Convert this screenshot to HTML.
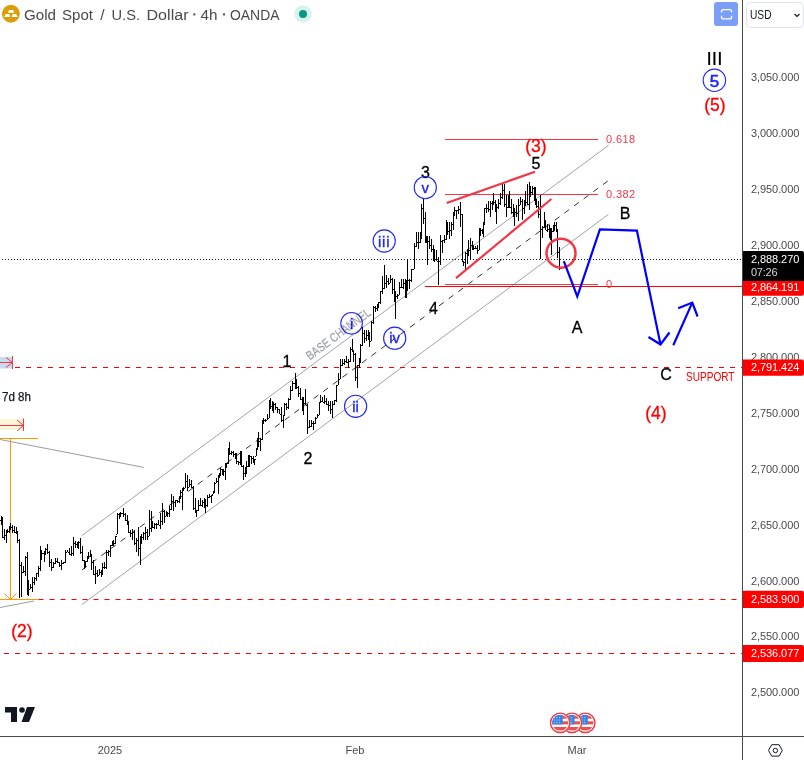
<!DOCTYPE html>
<html><head><meta charset="utf-8">
<style>
html,body{margin:0;padding:0;background:#fff;width:804px;height:760px;overflow:hidden}
svg{display:block;will-change:transform}
text{font-family:"Liberation Sans",sans-serif}
</style></head>
<body>
<svg width="804" height="760" viewBox="0 0 804 760">
<rect width="804" height="760" fill="#fff"/>

<!-- measure overlays left -->
<rect x="0" y="357" width="12" height="11.5" fill="#c6dbf0"/>
<path d="M0 362.5H12.5M12.5 356V369M6 357.5L12.5 362.5L6 367.5" stroke="#f23645" stroke-width="1" fill="none"/>
<rect x="0" y="419" width="23.5" height="11" fill="#fdf5d8"/>
<path d="M0 425.5H23.5M23.5 418.5V431M17 420L23.5 425.5L17 431" stroke="#f23645" stroke-width="1" fill="none"/>
<text x="2" y="400.5" font-size="12.5" fill="#131722" stroke="#131722" stroke-width="0.25" textLength="29" lengthAdjust="spacingAndGlyphs">7d 8h</text>
<path d="M0 438.5H38M10.5 438.5V599.5M0 599.5H38M4.5 593.5L10.5 599.5L16.5 593.5" stroke="#ff9800" stroke-width="1" fill="none"/>
<path d="M0 439.5L143.7 467.4M0 607.5L34 601" stroke="#9a9ca3" stroke-width="1" fill="none"/>

<!-- channel -->
<path d="M82 535.5L608.7 145.2M82 604.5L608.5 214.3" stroke="#a0a3aa" stroke-width="1" fill="none"/>
<path d="M82 570L607.8 181" stroke="#333" stroke-width="1" stroke-dasharray="6,6" fill="none"/>
<text transform="translate(310,360.5) rotate(-36.8)" font-size="12.5" fill="#9b9ea6" stroke="#9b9ea6" stroke-width="0.2" textLength="77" lengthAdjust="spacingAndGlyphs">BASE CHANNEL</text>

<!-- horizontal levels -->
<path d="M15 367.5H742M38.5 599.5H742M4 653.5H742" stroke="#ff0000" stroke-width="1.1" stroke-dasharray="5,6" fill="none"/>
<path d="M425 286.5H742" stroke="#ff0000" stroke-width="1" fill="none"/>
<path d="M-1 259.5H742" stroke="#131722" stroke-width="1" stroke-dasharray="1,2" fill="none"/>

<!-- fib -->
<path d="M445 139.5H598M445 194.5H598M445 284.5H598" stroke="#f23645" stroke-width="1" fill="none"/>
<text x="606" y="143" font-size="11" fill="#f23645" textLength="29" lengthAdjust="spacing">0.618</text>
<text x="606" y="198" font-size="11" fill="#f23645" textLength="29" lengthAdjust="spacing">0.382</text>
<text x="606" y="288" font-size="11" fill="#f23645">0</text>

<!-- bars -->
<g fill="#000">
<rect x="1" y="516" width="1" height="9"/>
<rect x="0" y="520" width="1" height="1"/>
<rect x="2" y="522" width="1" height="1"/>
<rect x="2" y="517" width="1" height="21"/>
<rect x="1" y="522" width="1" height="1"/>
<rect x="3" y="537" width="1" height="1"/>
<rect x="4" y="529" width="1" height="11"/>
<rect x="3" y="537" width="1" height="1"/>
<rect x="5" y="535" width="1" height="1"/>
<rect x="6" y="530" width="1" height="13"/>
<rect x="5" y="535" width="1" height="1"/>
<rect x="7" y="531" width="1" height="1"/>
<rect x="7" y="529" width="1" height="4"/>
<rect x="6" y="531" width="1" height="1"/>
<rect x="8" y="531" width="1" height="1"/>
<rect x="9" y="526" width="1" height="7"/>
<rect x="8" y="531" width="1" height="1"/>
<rect x="10" y="527" width="1" height="1"/>
<rect x="10" y="523" width="1" height="7"/>
<rect x="9" y="527" width="1" height="1"/>
<rect x="11" y="527" width="1" height="1"/>
<rect x="12" y="525" width="1" height="8"/>
<rect x="11" y="527" width="1" height="1"/>
<rect x="13" y="530" width="1" height="1"/>
<rect x="14" y="526" width="1" height="7"/>
<rect x="13" y="530" width="1" height="1"/>
<rect x="15" y="532" width="1" height="1"/>
<rect x="16" y="527" width="1" height="7"/>
<rect x="15" y="532" width="1" height="1"/>
<rect x="17" y="532" width="1" height="1"/>
<rect x="17" y="531" width="1" height="12"/>
<rect x="16" y="532" width="1" height="1"/>
<rect x="18" y="540" width="1" height="1"/>
<rect x="19" y="539" width="1" height="59"/>
<rect x="18" y="540" width="1" height="1"/>
<rect x="20" y="565" width="1" height="1"/>
<rect x="21" y="562" width="1" height="35"/>
<rect x="20" y="565" width="1" height="1"/>
<rect x="22" y="572" width="1" height="1"/>
<rect x="23" y="566" width="1" height="7"/>
<rect x="22" y="572" width="1" height="1"/>
<rect x="24" y="571" width="1" height="1"/>
<rect x="25" y="556" width="1" height="20"/>
<rect x="24" y="571" width="1" height="1"/>
<rect x="26" y="557" width="1" height="1"/>
<rect x="27" y="552" width="1" height="42"/>
<rect x="26" y="557" width="1" height="1"/>
<rect x="28" y="594" width="1" height="1"/>
<rect x="28" y="580" width="1" height="16"/>
<rect x="27" y="594" width="1" height="1"/>
<rect x="29" y="589" width="1" height="1"/>
<rect x="30" y="584" width="1" height="5"/>
<rect x="29" y="589" width="1" height="1"/>
<rect x="31" y="587" width="1" height="1"/>
<rect x="32" y="577" width="1" height="15"/>
<rect x="31" y="587" width="1" height="1"/>
<rect x="33" y="582" width="1" height="1"/>
<rect x="34" y="577" width="1" height="8"/>
<rect x="33" y="582" width="1" height="1"/>
<rect x="35" y="578" width="1" height="1"/>
<rect x="36" y="573" width="1" height="8"/>
<rect x="35" y="578" width="1" height="1"/>
<rect x="37" y="573" width="1" height="1"/>
<rect x="38" y="566" width="1" height="11"/>
<rect x="37" y="573" width="1" height="1"/>
<rect x="39" y="568" width="1" height="1"/>
<rect x="40" y="546" width="1" height="25"/>
<rect x="39" y="568" width="1" height="1"/>
<rect x="41" y="550" width="1" height="1"/>
<rect x="41" y="550" width="1" height="10"/>
<rect x="40" y="550" width="1" height="1"/>
<rect x="42" y="553" width="1" height="1"/>
<rect x="44" y="551" width="1" height="11"/>
<rect x="43" y="553" width="1" height="1"/>
<rect x="45" y="552" width="1" height="1"/>
<rect x="45" y="548" width="1" height="7"/>
<rect x="44" y="552" width="1" height="1"/>
<rect x="46" y="549" width="1" height="1"/>
<rect x="47" y="544" width="1" height="10"/>
<rect x="46" y="549" width="1" height="1"/>
<rect x="48" y="552" width="1" height="1"/>
<rect x="49" y="551" width="1" height="16"/>
<rect x="48" y="552" width="1" height="1"/>
<rect x="50" y="562" width="1" height="1"/>
<rect x="51" y="559" width="1" height="12"/>
<rect x="50" y="562" width="1" height="1"/>
<rect x="52" y="567" width="1" height="1"/>
<rect x="53" y="562" width="1" height="6"/>
<rect x="52" y="567" width="1" height="1"/>
<rect x="54" y="563" width="1" height="1"/>
<rect x="55" y="558" width="1" height="6"/>
<rect x="54" y="563" width="1" height="1"/>
<rect x="56" y="561" width="1" height="1"/>
<rect x="57" y="558" width="1" height="5"/>
<rect x="56" y="561" width="1" height="1"/>
<rect x="58" y="562" width="1" height="1"/>
<rect x="59" y="562" width="1" height="5"/>
<rect x="58" y="562" width="1" height="1"/>
<rect x="60" y="565" width="1" height="1"/>
<rect x="61" y="560" width="1" height="10"/>
<rect x="60" y="565" width="1" height="1"/>
<rect x="62" y="563" width="1" height="1"/>
<rect x="63" y="562" width="1" height="2"/>
<rect x="62" y="563" width="1" height="1"/>
<rect x="64" y="562" width="1" height="1"/>
<rect x="65" y="550" width="1" height="13"/>
<rect x="64" y="562" width="1" height="1"/>
<rect x="66" y="552" width="1" height="1"/>
<rect x="67" y="550" width="1" height="2"/>
<rect x="66" y="552" width="1" height="1"/>
<rect x="68" y="552" width="1" height="1"/>
<rect x="69" y="548" width="1" height="7"/>
<rect x="68" y="552" width="1" height="1"/>
<rect x="70" y="554" width="1" height="1"/>
<rect x="71" y="546" width="1" height="10"/>
<rect x="70" y="554" width="1" height="1"/>
<rect x="72" y="553" width="1" height="1"/>
<rect x="73" y="537" width="1" height="19"/>
<rect x="72" y="553" width="1" height="1"/>
<rect x="74" y="543" width="1" height="1"/>
<rect x="75" y="541" width="1" height="7"/>
<rect x="74" y="543" width="1" height="1"/>
<rect x="76" y="544" width="1" height="1"/>
<rect x="77" y="542" width="1" height="6"/>
<rect x="76" y="544" width="1" height="1"/>
<rect x="78" y="544" width="1" height="1"/>
<rect x="78" y="541" width="1" height="8"/>
<rect x="77" y="544" width="1" height="1"/>
<rect x="79" y="542" width="1" height="1"/>
<rect x="80" y="538" width="1" height="16"/>
<rect x="79" y="542" width="1" height="1"/>
<rect x="81" y="552" width="1" height="1"/>
<rect x="82" y="546" width="1" height="15"/>
<rect x="81" y="552" width="1" height="1"/>
<rect x="83" y="560" width="1" height="1"/>
<rect x="84" y="560" width="1" height="9"/>
<rect x="83" y="560" width="1" height="1"/>
<rect x="85" y="566" width="1" height="1"/>
<rect x="85" y="561" width="1" height="6"/>
<rect x="84" y="566" width="1" height="1"/>
<rect x="86" y="561" width="1" height="1"/>
<rect x="87" y="556" width="1" height="6"/>
<rect x="86" y="561" width="1" height="1"/>
<rect x="88" y="558" width="1" height="1"/>
<rect x="88" y="552" width="1" height="6"/>
<rect x="87" y="558" width="1" height="1"/>
<rect x="89" y="556" width="1" height="1"/>
<rect x="90" y="550" width="1" height="7"/>
<rect x="89" y="556" width="1" height="1"/>
<rect x="91" y="554" width="1" height="1"/>
<rect x="91" y="554" width="1" height="16"/>
<rect x="90" y="554" width="1" height="1"/>
<rect x="92" y="562" width="1" height="1"/>
<rect x="93" y="560" width="1" height="15"/>
<rect x="92" y="562" width="1" height="1"/>
<rect x="94" y="574" width="1" height="1"/>
<rect x="95" y="566" width="1" height="18"/>
<rect x="94" y="574" width="1" height="1"/>
<rect x="96" y="573" width="1" height="1"/>
<rect x="97" y="570" width="1" height="7"/>
<rect x="96" y="573" width="1" height="1"/>
<rect x="98" y="575" width="1" height="1"/>
<rect x="99" y="569" width="1" height="6"/>
<rect x="98" y="575" width="1" height="1"/>
<rect x="100" y="572" width="1" height="1"/>
<rect x="101" y="570" width="1" height="7"/>
<rect x="100" y="572" width="1" height="1"/>
<rect x="102" y="570" width="1" height="1"/>
<rect x="102" y="563" width="1" height="12"/>
<rect x="101" y="570" width="1" height="1"/>
<rect x="103" y="567" width="1" height="1"/>
<rect x="104" y="562" width="1" height="7"/>
<rect x="103" y="567" width="1" height="1"/>
<rect x="105" y="567" width="1" height="1"/>
<rect x="106" y="550" width="1" height="19"/>
<rect x="105" y="567" width="1" height="1"/>
<rect x="107" y="552" width="1" height="1"/>
<rect x="108" y="550" width="1" height="6"/>
<rect x="107" y="552" width="1" height="1"/>
<rect x="109" y="551" width="1" height="1"/>
<rect x="110" y="545" width="1" height="12"/>
<rect x="109" y="551" width="1" height="1"/>
<rect x="111" y="545" width="1" height="1"/>
<rect x="112" y="541" width="1" height="4"/>
<rect x="111" y="545" width="1" height="1"/>
<rect x="113" y="545" width="1" height="1"/>
<rect x="113" y="540" width="1" height="5"/>
<rect x="112" y="545" width="1" height="1"/>
<rect x="114" y="543" width="1" height="1"/>
<rect x="115" y="536" width="1" height="8"/>
<rect x="114" y="543" width="1" height="1"/>
<rect x="116" y="536" width="1" height="1"/>
<rect x="117" y="513" width="1" height="21"/>
<rect x="116" y="534" width="1" height="1"/>
<rect x="118" y="514" width="1" height="1"/>
<rect x="119" y="513" width="1" height="6"/>
<rect x="118" y="514" width="1" height="1"/>
<rect x="120" y="514" width="1" height="1"/>
<rect x="120" y="512" width="1" height="5"/>
<rect x="119" y="514" width="1" height="1"/>
<rect x="121" y="513" width="1" height="1"/>
<rect x="123" y="508" width="1" height="9"/>
<rect x="122" y="513" width="1" height="1"/>
<rect x="124" y="514" width="1" height="1"/>
<rect x="125" y="513" width="1" height="8"/>
<rect x="124" y="514" width="1" height="1"/>
<rect x="126" y="520" width="1" height="1"/>
<rect x="127" y="515" width="1" height="10"/>
<rect x="126" y="520" width="1" height="1"/>
<rect x="128" y="522" width="1" height="1"/>
<rect x="128" y="521" width="1" height="12"/>
<rect x="127" y="522" width="1" height="1"/>
<rect x="129" y="532" width="1" height="1"/>
<rect x="130" y="530" width="1" height="7"/>
<rect x="129" y="532" width="1" height="1"/>
<rect x="131" y="533" width="1" height="1"/>
<rect x="132" y="529" width="1" height="11"/>
<rect x="131" y="533" width="1" height="1"/>
<rect x="133" y="532" width="1" height="1"/>
<rect x="134" y="530" width="1" height="15"/>
<rect x="133" y="532" width="1" height="1"/>
<rect x="135" y="543" width="1" height="1"/>
<rect x="136" y="538" width="1" height="14"/>
<rect x="135" y="543" width="1" height="1"/>
<rect x="137" y="540" width="1" height="1"/>
<rect x="138" y="527" width="1" height="29"/>
<rect x="137" y="540" width="1" height="1"/>
<rect x="139" y="548" width="1" height="1"/>
<rect x="140" y="536" width="1" height="29"/>
<rect x="139" y="548" width="1" height="1"/>
<rect x="141" y="537" width="1" height="1"/>
<rect x="141" y="534" width="1" height="10"/>
<rect x="140" y="537" width="1" height="1"/>
<rect x="142" y="537" width="1" height="1"/>
<rect x="143" y="532" width="1" height="8"/>
<rect x="142" y="537" width="1" height="1"/>
<rect x="144" y="533" width="1" height="1"/>
<rect x="145" y="527" width="1" height="13"/>
<rect x="144" y="533" width="1" height="1"/>
<rect x="146" y="532" width="1" height="1"/>
<rect x="147" y="529" width="1" height="11"/>
<rect x="146" y="532" width="1" height="1"/>
<rect x="148" y="536" width="1" height="1"/>
<rect x="149" y="510" width="1" height="26"/>
<rect x="148" y="536" width="1" height="1"/>
<rect x="150" y="528" width="1" height="1"/>
<rect x="151" y="511" width="1" height="21"/>
<rect x="150" y="528" width="1" height="1"/>
<rect x="152" y="523" width="1" height="1"/>
<rect x="152" y="521" width="1" height="7"/>
<rect x="151" y="523" width="1" height="1"/>
<rect x="153" y="527" width="1" height="1"/>
<rect x="154" y="523" width="1" height="6"/>
<rect x="153" y="527" width="1" height="1"/>
<rect x="155" y="524" width="1" height="1"/>
<rect x="156" y="523" width="1" height="6"/>
<rect x="155" y="524" width="1" height="1"/>
<rect x="157" y="524" width="1" height="1"/>
<rect x="158" y="520" width="1" height="5"/>
<rect x="157" y="524" width="1" height="1"/>
<rect x="159" y="525" width="1" height="1"/>
<rect x="160" y="513" width="1" height="16"/>
<rect x="159" y="525" width="1" height="1"/>
<rect x="161" y="521" width="1" height="1"/>
<rect x="162" y="503" width="1" height="22"/>
<rect x="161" y="521" width="1" height="1"/>
<rect x="163" y="511" width="1" height="1"/>
<rect x="164" y="510" width="1" height="13"/>
<rect x="163" y="511" width="1" height="1"/>
<rect x="165" y="516" width="1" height="1"/>
<rect x="166" y="511" width="1" height="5"/>
<rect x="165" y="516" width="1" height="1"/>
<rect x="167" y="513" width="1" height="1"/>
<rect x="167" y="512" width="1" height="5"/>
<rect x="166" y="513" width="1" height="1"/>
<rect x="168" y="513" width="1" height="1"/>
<rect x="169" y="506" width="1" height="11"/>
<rect x="168" y="513" width="1" height="1"/>
<rect x="170" y="509" width="1" height="1"/>
<rect x="171" y="494" width="1" height="16"/>
<rect x="170" y="509" width="1" height="1"/>
<rect x="172" y="501" width="1" height="1"/>
<rect x="173" y="496" width="1" height="15"/>
<rect x="172" y="501" width="1" height="1"/>
<rect x="174" y="502" width="1" height="1"/>
<rect x="175" y="500" width="1" height="7"/>
<rect x="174" y="502" width="1" height="1"/>
<rect x="176" y="500" width="1" height="1"/>
<rect x="177" y="500" width="1" height="3"/>
<rect x="176" y="500" width="1" height="1"/>
<rect x="178" y="501" width="1" height="1"/>
<rect x="179" y="496" width="1" height="7"/>
<rect x="178" y="501" width="1" height="1"/>
<rect x="180" y="498" width="1" height="1"/>
<rect x="180" y="490" width="1" height="9"/>
<rect x="179" y="498" width="1" height="1"/>
<rect x="181" y="492" width="1" height="1"/>
<rect x="182" y="488" width="1" height="22"/>
<rect x="181" y="492" width="1" height="1"/>
<rect x="183" y="490" width="1" height="1"/>
<rect x="183" y="487" width="1" height="4"/>
<rect x="182" y="490" width="1" height="1"/>
<rect x="184" y="488" width="1" height="1"/>
<rect x="185" y="473" width="1" height="15"/>
<rect x="184" y="488" width="1" height="1"/>
<rect x="186" y="481" width="1" height="1"/>
<rect x="187" y="475" width="1" height="16"/>
<rect x="186" y="481" width="1" height="1"/>
<rect x="188" y="487" width="1" height="1"/>
<rect x="189" y="479" width="1" height="8"/>
<rect x="188" y="487" width="1" height="1"/>
<rect x="190" y="484" width="1" height="1"/>
<rect x="191" y="480" width="1" height="8"/>
<rect x="190" y="484" width="1" height="1"/>
<rect x="192" y="487" width="1" height="1"/>
<rect x="193" y="486" width="1" height="24"/>
<rect x="192" y="487" width="1" height="1"/>
<rect x="194" y="508" width="1" height="1"/>
<rect x="195" y="498" width="1" height="15"/>
<rect x="194" y="508" width="1" height="1"/>
<rect x="196" y="510" width="1" height="1"/>
<rect x="196" y="510" width="1" height="7"/>
<rect x="195" y="510" width="1" height="1"/>
<rect x="197" y="510" width="1" height="1"/>
<rect x="198" y="500" width="1" height="11"/>
<rect x="197" y="510" width="1" height="1"/>
<rect x="199" y="505" width="1" height="1"/>
<rect x="200" y="498" width="1" height="8"/>
<rect x="199" y="505" width="1" height="1"/>
<rect x="201" y="505" width="1" height="1"/>
<rect x="202" y="500" width="1" height="7"/>
<rect x="201" y="505" width="1" height="1"/>
<rect x="203" y="502" width="1" height="1"/>
<rect x="204" y="498" width="1" height="10"/>
<rect x="203" y="502" width="1" height="1"/>
<rect x="205" y="501" width="1" height="1"/>
<rect x="205" y="499" width="1" height="14"/>
<rect x="204" y="501" width="1" height="1"/>
<rect x="206" y="505" width="1" height="1"/>
<rect x="207" y="495" width="1" height="12"/>
<rect x="206" y="505" width="1" height="1"/>
<rect x="208" y="497" width="1" height="1"/>
<rect x="209" y="494" width="1" height="4"/>
<rect x="208" y="497" width="1" height="1"/>
<rect x="210" y="496" width="1" height="1"/>
<rect x="211" y="495" width="1" height="8"/>
<rect x="210" y="496" width="1" height="1"/>
<rect x="212" y="495" width="1" height="1"/>
<rect x="213" y="491" width="1" height="3"/>
<rect x="212" y="494" width="1" height="1"/>
<rect x="214" y="492" width="1" height="1"/>
<rect x="214" y="482" width="1" height="10"/>
<rect x="213" y="492" width="1" height="1"/>
<rect x="215" y="483" width="1" height="1"/>
<rect x="216" y="478" width="1" height="5"/>
<rect x="215" y="483" width="1" height="1"/>
<rect x="217" y="481" width="1" height="1"/>
<rect x="218" y="475" width="1" height="19"/>
<rect x="217" y="481" width="1" height="1"/>
<rect x="219" y="476" width="1" height="1"/>
<rect x="219" y="473" width="1" height="5"/>
<rect x="218" y="476" width="1" height="1"/>
<rect x="220" y="473" width="1" height="1"/>
<rect x="220" y="468" width="1" height="8"/>
<rect x="219" y="473" width="1" height="1"/>
<rect x="221" y="469" width="1" height="1"/>
<rect x="222" y="469" width="1" height="5"/>
<rect x="221" y="469" width="1" height="1"/>
<rect x="223" y="474" width="1" height="1"/>
<rect x="223" y="469" width="1" height="7"/>
<rect x="222" y="474" width="1" height="1"/>
<rect x="224" y="471" width="1" height="1"/>
<rect x="225" y="463" width="1" height="17"/>
<rect x="224" y="471" width="1" height="1"/>
<rect x="226" y="466" width="1" height="1"/>
<rect x="226" y="463" width="1" height="5"/>
<rect x="225" y="466" width="1" height="1"/>
<rect x="227" y="463" width="1" height="1"/>
<rect x="228" y="448" width="1" height="16"/>
<rect x="227" y="463" width="1" height="1"/>
<rect x="229" y="454" width="1" height="1"/>
<rect x="229" y="442" width="1" height="13"/>
<rect x="228" y="454" width="1" height="1"/>
<rect x="230" y="453" width="1" height="1"/>
<rect x="231" y="451" width="1" height="4"/>
<rect x="230" y="453" width="1" height="1"/>
<rect x="232" y="452" width="1" height="1"/>
<rect x="233" y="451" width="1" height="6"/>
<rect x="232" y="452" width="1" height="1"/>
<rect x="234" y="454" width="1" height="1"/>
<rect x="235" y="453" width="1" height="6"/>
<rect x="234" y="454" width="1" height="1"/>
<rect x="236" y="457" width="1" height="1"/>
<rect x="236" y="453" width="1" height="11"/>
<rect x="235" y="457" width="1" height="1"/>
<rect x="237" y="461" width="1" height="1"/>
<rect x="238" y="461" width="1" height="4"/>
<rect x="237" y="461" width="1" height="1"/>
<rect x="239" y="462" width="1" height="1"/>
<rect x="240" y="451" width="1" height="14"/>
<rect x="239" y="462" width="1" height="1"/>
<rect x="241" y="459" width="1" height="1"/>
<rect x="241" y="451" width="1" height="16"/>
<rect x="240" y="459" width="1" height="1"/>
<rect x="242" y="466" width="1" height="1"/>
<rect x="243" y="465" width="1" height="15"/>
<rect x="242" y="466" width="1" height="1"/>
<rect x="244" y="473" width="1" height="1"/>
<rect x="245" y="467" width="1" height="10"/>
<rect x="244" y="473" width="1" height="1"/>
<rect x="246" y="469" width="1" height="1"/>
<rect x="246" y="461" width="1" height="13"/>
<rect x="245" y="469" width="1" height="1"/>
<rect x="247" y="466" width="1" height="1"/>
<rect x="248" y="455" width="1" height="12"/>
<rect x="247" y="466" width="1" height="1"/>
<rect x="249" y="457" width="1" height="1"/>
<rect x="249" y="455" width="1" height="12"/>
<rect x="248" y="457" width="1" height="1"/>
<rect x="250" y="456" width="1" height="1"/>
<rect x="251" y="456" width="1" height="8"/>
<rect x="250" y="456" width="1" height="1"/>
<rect x="252" y="458" width="1" height="1"/>
<rect x="253" y="456" width="1" height="7"/>
<rect x="252" y="458" width="1" height="1"/>
<rect x="254" y="460" width="1" height="1"/>
<rect x="254" y="459" width="1" height="6"/>
<rect x="253" y="460" width="1" height="1"/>
<rect x="255" y="459" width="1" height="1"/>
<rect x="256" y="448" width="1" height="8"/>
<rect x="255" y="456" width="1" height="1"/>
<rect x="257" y="448" width="1" height="1"/>
<rect x="257" y="438" width="1" height="12"/>
<rect x="256" y="448" width="1" height="1"/>
<rect x="258" y="439" width="1" height="1"/>
<rect x="258" y="432" width="1" height="15"/>
<rect x="257" y="439" width="1" height="1"/>
<rect x="259" y="441" width="1" height="1"/>
<rect x="260" y="438" width="1" height="13"/>
<rect x="259" y="441" width="1" height="1"/>
<rect x="261" y="439" width="1" height="1"/>
<rect x="262" y="420" width="1" height="20"/>
<rect x="261" y="439" width="1" height="1"/>
<rect x="263" y="421" width="1" height="1"/>
<rect x="263" y="418" width="1" height="6"/>
<rect x="262" y="421" width="1" height="1"/>
<rect x="264" y="420" width="1" height="1"/>
<rect x="265" y="419" width="1" height="3"/>
<rect x="264" y="420" width="1" height="1"/>
<rect x="266" y="420" width="1" height="1"/>
<rect x="267" y="414" width="1" height="6"/>
<rect x="266" y="420" width="1" height="1"/>
<rect x="268" y="418" width="1" height="1"/>
<rect x="269" y="400" width="1" height="18"/>
<rect x="268" y="418" width="1" height="1"/>
<rect x="270" y="406" width="1" height="1"/>
<rect x="270" y="398" width="1" height="11"/>
<rect x="269" y="406" width="1" height="1"/>
<rect x="271" y="406" width="1" height="1"/>
<rect x="272" y="401" width="1" height="10"/>
<rect x="271" y="406" width="1" height="1"/>
<rect x="273" y="407" width="1" height="1"/>
<rect x="273" y="402" width="1" height="11"/>
<rect x="272" y="407" width="1" height="1"/>
<rect x="274" y="404" width="1" height="1"/>
<rect x="275" y="403" width="1" height="7"/>
<rect x="274" y="404" width="1" height="1"/>
<rect x="276" y="407" width="1" height="1"/>
<rect x="277" y="407" width="1" height="6"/>
<rect x="276" y="407" width="1" height="1"/>
<rect x="278" y="409" width="1" height="1"/>
<rect x="279" y="409" width="1" height="5"/>
<rect x="278" y="409" width="1" height="1"/>
<rect x="280" y="414" width="1" height="1"/>
<rect x="281" y="407" width="1" height="15"/>
<rect x="280" y="414" width="1" height="1"/>
<rect x="282" y="420" width="1" height="1"/>
<rect x="283" y="415" width="1" height="13"/>
<rect x="282" y="420" width="1" height="1"/>
<rect x="284" y="415" width="1" height="1"/>
<rect x="284" y="403" width="1" height="12"/>
<rect x="283" y="415" width="1" height="1"/>
<rect x="285" y="404" width="1" height="1"/>
<rect x="286" y="403" width="1" height="7"/>
<rect x="285" y="404" width="1" height="1"/>
<rect x="287" y="407" width="1" height="1"/>
<rect x="288" y="398" width="1" height="11"/>
<rect x="287" y="407" width="1" height="1"/>
<rect x="289" y="399" width="1" height="1"/>
<rect x="290" y="386" width="1" height="14"/>
<rect x="289" y="399" width="1" height="1"/>
<rect x="291" y="390" width="1" height="1"/>
<rect x="292" y="381" width="1" height="10"/>
<rect x="291" y="390" width="1" height="1"/>
<rect x="293" y="383" width="1" height="1"/>
<rect x="295" y="373" width="1" height="15"/>
<rect x="294" y="383" width="1" height="1"/>
<rect x="296" y="388" width="1" height="1"/>
<rect x="296" y="379" width="1" height="10"/>
<rect x="295" y="388" width="1" height="1"/>
<rect x="297" y="387" width="1" height="1"/>
<rect x="298" y="386" width="1" height="11"/>
<rect x="297" y="387" width="1" height="1"/>
<rect x="299" y="393" width="1" height="1"/>
<rect x="300" y="388" width="1" height="12"/>
<rect x="299" y="393" width="1" height="1"/>
<rect x="301" y="399" width="1" height="1"/>
<rect x="302" y="397" width="1" height="14"/>
<rect x="301" y="399" width="1" height="1"/>
<rect x="303" y="410" width="1" height="1"/>
<rect x="303" y="397" width="1" height="18"/>
<rect x="302" y="410" width="1" height="1"/>
<rect x="304" y="403" width="1" height="1"/>
<rect x="305" y="389" width="1" height="16"/>
<rect x="304" y="403" width="1" height="1"/>
<rect x="306" y="405" width="1" height="1"/>
<rect x="307" y="404" width="1" height="30"/>
<rect x="306" y="405" width="1" height="1"/>
<rect x="308" y="427" width="1" height="1"/>
<rect x="309" y="420" width="1" height="8"/>
<rect x="308" y="427" width="1" height="1"/>
<rect x="310" y="426" width="1" height="1"/>
<rect x="311" y="420" width="1" height="7"/>
<rect x="310" y="426" width="1" height="1"/>
<rect x="312" y="423" width="1" height="1"/>
<rect x="313" y="421" width="1" height="9"/>
<rect x="312" y="423" width="1" height="1"/>
<rect x="314" y="423" width="1" height="1"/>
<rect x="315" y="417" width="1" height="7"/>
<rect x="314" y="423" width="1" height="1"/>
<rect x="316" y="418" width="1" height="1"/>
<rect x="317" y="414" width="1" height="4"/>
<rect x="316" y="418" width="1" height="1"/>
<rect x="318" y="415" width="1" height="1"/>
<rect x="319" y="402" width="1" height="13"/>
<rect x="318" y="415" width="1" height="1"/>
<rect x="320" y="402" width="1" height="1"/>
<rect x="320" y="395" width="1" height="7"/>
<rect x="319" y="402" width="1" height="1"/>
<rect x="321" y="401" width="1" height="1"/>
<rect x="322" y="397" width="1" height="5"/>
<rect x="321" y="401" width="1" height="1"/>
<rect x="323" y="402" width="1" height="1"/>
<rect x="324" y="395" width="1" height="9"/>
<rect x="323" y="402" width="1" height="1"/>
<rect x="325" y="401" width="1" height="1"/>
<rect x="326" y="398" width="1" height="7"/>
<rect x="325" y="401" width="1" height="1"/>
<rect x="327" y="404" width="1" height="1"/>
<rect x="328" y="401" width="1" height="10"/>
<rect x="327" y="404" width="1" height="1"/>
<rect x="329" y="405" width="1" height="1"/>
<rect x="330" y="401" width="1" height="13"/>
<rect x="329" y="405" width="1" height="1"/>
<rect x="331" y="409" width="1" height="1"/>
<rect x="332" y="401" width="1" height="17"/>
<rect x="331" y="409" width="1" height="1"/>
<rect x="333" y="404" width="1" height="1"/>
<rect x="334" y="400" width="1" height="5"/>
<rect x="333" y="404" width="1" height="1"/>
<rect x="335" y="400" width="1" height="1"/>
<rect x="336" y="385" width="1" height="17"/>
<rect x="335" y="400" width="1" height="1"/>
<rect x="337" y="385" width="1" height="1"/>
<rect x="338" y="373" width="1" height="12"/>
<rect x="337" y="385" width="1" height="1"/>
<rect x="339" y="379" width="1" height="1"/>
<rect x="340" y="359" width="1" height="20"/>
<rect x="339" y="379" width="1" height="1"/>
<rect x="341" y="365" width="1" height="1"/>
<rect x="342" y="359" width="1" height="7"/>
<rect x="341" y="365" width="1" height="1"/>
<rect x="343" y="363" width="1" height="1"/>
<rect x="344" y="359" width="1" height="6"/>
<rect x="343" y="363" width="1" height="1"/>
<rect x="345" y="361" width="1" height="1"/>
<rect x="346" y="356" width="1" height="7"/>
<rect x="345" y="361" width="1" height="1"/>
<rect x="347" y="362" width="1" height="1"/>
<rect x="348" y="359" width="1" height="9"/>
<rect x="347" y="362" width="1" height="1"/>
<rect x="349" y="361" width="1" height="1"/>
<rect x="350" y="347" width="1" height="15"/>
<rect x="349" y="361" width="1" height="1"/>
<rect x="351" y="349" width="1" height="1"/>
<rect x="352" y="339" width="1" height="13"/>
<rect x="351" y="349" width="1" height="1"/>
<rect x="353" y="351" width="1" height="1"/>
<rect x="353" y="350" width="1" height="12"/>
<rect x="352" y="351" width="1" height="1"/>
<rect x="354" y="354" width="1" height="1"/>
<rect x="355" y="353" width="1" height="28"/>
<rect x="354" y="354" width="1" height="1"/>
<rect x="356" y="377" width="1" height="1"/>
<rect x="357" y="365" width="1" height="23"/>
<rect x="356" y="377" width="1" height="1"/>
<rect x="358" y="365" width="1" height="1"/>
<rect x="359" y="358" width="1" height="10"/>
<rect x="358" y="365" width="1" height="1"/>
<rect x="360" y="361" width="1" height="1"/>
<rect x="360" y="344" width="1" height="19"/>
<rect x="359" y="361" width="1" height="1"/>
<rect x="361" y="345" width="1" height="1"/>
<rect x="362" y="327" width="1" height="19"/>
<rect x="361" y="345" width="1" height="1"/>
<rect x="363" y="333" width="1" height="1"/>
<rect x="364" y="330" width="1" height="13"/>
<rect x="363" y="333" width="1" height="1"/>
<rect x="365" y="338" width="1" height="1"/>
<rect x="366" y="330" width="1" height="11"/>
<rect x="365" y="338" width="1" height="1"/>
<rect x="367" y="335" width="1" height="1"/>
<rect x="368" y="330" width="1" height="10"/>
<rect x="367" y="335" width="1" height="1"/>
<rect x="369" y="337" width="1" height="1"/>
<rect x="369" y="332" width="1" height="15"/>
<rect x="368" y="337" width="1" height="1"/>
<rect x="370" y="341" width="1" height="1"/>
<rect x="371" y="321" width="1" height="20"/>
<rect x="370" y="341" width="1" height="1"/>
<rect x="372" y="322" width="1" height="1"/>
<rect x="373" y="306" width="1" height="18"/>
<rect x="372" y="322" width="1" height="1"/>
<rect x="374" y="307" width="1" height="1"/>
<rect x="375" y="306" width="1" height="6"/>
<rect x="374" y="307" width="1" height="1"/>
<rect x="376" y="308" width="1" height="1"/>
<rect x="377" y="304" width="1" height="7"/>
<rect x="376" y="308" width="1" height="1"/>
<rect x="378" y="307" width="1" height="1"/>
<rect x="378" y="302" width="1" height="6"/>
<rect x="377" y="307" width="1" height="1"/>
<rect x="379" y="302" width="1" height="1"/>
<rect x="380" y="291" width="1" height="13"/>
<rect x="379" y="302" width="1" height="1"/>
<rect x="381" y="291" width="1" height="1"/>
<rect x="382" y="276" width="1" height="18"/>
<rect x="381" y="291" width="1" height="1"/>
<rect x="383" y="288" width="1" height="1"/>
<rect x="384" y="265" width="1" height="24"/>
<rect x="383" y="288" width="1" height="1"/>
<rect x="385" y="283" width="1" height="1"/>
<rect x="386" y="275" width="1" height="13"/>
<rect x="385" y="283" width="1" height="1"/>
<rect x="387" y="281" width="1" height="1"/>
<rect x="388" y="278" width="1" height="7"/>
<rect x="387" y="281" width="1" height="1"/>
<rect x="389" y="283" width="1" height="1"/>
<rect x="390" y="275" width="1" height="8"/>
<rect x="389" y="283" width="1" height="1"/>
<rect x="391" y="279" width="1" height="1"/>
<rect x="392" y="278" width="1" height="16"/>
<rect x="391" y="279" width="1" height="1"/>
<rect x="393" y="289" width="1" height="1"/>
<rect x="394" y="279" width="1" height="23"/>
<rect x="393" y="289" width="1" height="1"/>
<rect x="395" y="293" width="1" height="1"/>
<rect x="395" y="291" width="1" height="28"/>
<rect x="394" y="293" width="1" height="1"/>
<rect x="396" y="296" width="1" height="1"/>
<rect x="397" y="294" width="1" height="5"/>
<rect x="396" y="296" width="1" height="1"/>
<rect x="398" y="295" width="1" height="1"/>
<rect x="399" y="282" width="1" height="13"/>
<rect x="398" y="295" width="1" height="1"/>
<rect x="400" y="287" width="1" height="1"/>
<rect x="401" y="279" width="1" height="9"/>
<rect x="400" y="287" width="1" height="1"/>
<rect x="402" y="287" width="1" height="1"/>
<rect x="403" y="279" width="1" height="10"/>
<rect x="402" y="287" width="1" height="1"/>
<rect x="404" y="283" width="1" height="1"/>
<rect x="405" y="279" width="1" height="19"/>
<rect x="404" y="283" width="1" height="1"/>
<rect x="406" y="291" width="1" height="1"/>
<rect x="406" y="280" width="1" height="18"/>
<rect x="405" y="291" width="1" height="1"/>
<rect x="407" y="284" width="1" height="1"/>
<rect x="407" y="259" width="1" height="32"/>
<rect x="406" y="284" width="1" height="1"/>
<rect x="408" y="280" width="1" height="1"/>
<rect x="409" y="279" width="1" height="10"/>
<rect x="408" y="280" width="1" height="1"/>
<rect x="410" y="280" width="1" height="1"/>
<rect x="411" y="269" width="1" height="13"/>
<rect x="410" y="280" width="1" height="1"/>
<rect x="412" y="269" width="1" height="1"/>
<rect x="414" y="243" width="1" height="26"/>
<rect x="413" y="269" width="1" height="1"/>
<rect x="415" y="246" width="1" height="1"/>
<rect x="416" y="232" width="1" height="15"/>
<rect x="415" y="246" width="1" height="1"/>
<rect x="417" y="242" width="1" height="1"/>
<rect x="418" y="232" width="1" height="17"/>
<rect x="417" y="242" width="1" height="1"/>
<rect x="419" y="242" width="1" height="1"/>
<rect x="420" y="232" width="1" height="11"/>
<rect x="419" y="242" width="1" height="1"/>
<rect x="421" y="234" width="1" height="1"/>
<rect x="421" y="204" width="1" height="35"/>
<rect x="420" y="234" width="1" height="1"/>
<rect x="422" y="208" width="1" height="1"/>
<rect x="423" y="198" width="1" height="26"/>
<rect x="422" y="208" width="1" height="1"/>
<rect x="424" y="218" width="1" height="1"/>
<rect x="425" y="212" width="1" height="31"/>
<rect x="424" y="218" width="1" height="1"/>
<rect x="426" y="238" width="1" height="1"/>
<rect x="426" y="236" width="1" height="7"/>
<rect x="425" y="238" width="1" height="1"/>
<rect x="427" y="237" width="1" height="1"/>
<rect x="427" y="236" width="1" height="29"/>
<rect x="426" y="237" width="1" height="1"/>
<rect x="428" y="241" width="1" height="1"/>
<rect x="429" y="236" width="1" height="13"/>
<rect x="428" y="241" width="1" height="1"/>
<rect x="430" y="245" width="1" height="1"/>
<rect x="431" y="239" width="1" height="13"/>
<rect x="430" y="245" width="1" height="1"/>
<rect x="432" y="249" width="1" height="1"/>
<rect x="433" y="245" width="1" height="16"/>
<rect x="432" y="249" width="1" height="1"/>
<rect x="434" y="253" width="1" height="1"/>
<rect x="434" y="249" width="1" height="13"/>
<rect x="433" y="253" width="1" height="1"/>
<rect x="435" y="259" width="1" height="1"/>
<rect x="436" y="250" width="1" height="11"/>
<rect x="435" y="259" width="1" height="1"/>
<rect x="437" y="261" width="1" height="1"/>
<rect x="438" y="257" width="1" height="28"/>
<rect x="437" y="261" width="1" height="1"/>
<rect x="439" y="261" width="1" height="1"/>
<rect x="440" y="235" width="1" height="30"/>
<rect x="439" y="261" width="1" height="1"/>
<rect x="441" y="241" width="1" height="1"/>
<rect x="442" y="240" width="1" height="13"/>
<rect x="441" y="241" width="1" height="1"/>
<rect x="443" y="240" width="1" height="1"/>
<rect x="444" y="235" width="1" height="8"/>
<rect x="443" y="240" width="1" height="1"/>
<rect x="445" y="239" width="1" height="1"/>
<rect x="446" y="220" width="1" height="20"/>
<rect x="445" y="239" width="1" height="1"/>
<rect x="447" y="222" width="1" height="1"/>
<rect x="447" y="222" width="1" height="13"/>
<rect x="446" y="222" width="1" height="1"/>
<rect x="448" y="231" width="1" height="1"/>
<rect x="449" y="222" width="1" height="17"/>
<rect x="448" y="231" width="1" height="1"/>
<rect x="450" y="230" width="1" height="1"/>
<rect x="451" y="222" width="1" height="14"/>
<rect x="450" y="230" width="1" height="1"/>
<rect x="452" y="224" width="1" height="1"/>
<rect x="453" y="212" width="1" height="18"/>
<rect x="452" y="224" width="1" height="1"/>
<rect x="454" y="215" width="1" height="1"/>
<rect x="454" y="207" width="1" height="9"/>
<rect x="453" y="215" width="1" height="1"/>
<rect x="455" y="210" width="1" height="1"/>
<rect x="456" y="210" width="1" height="9"/>
<rect x="455" y="210" width="1" height="1"/>
<rect x="457" y="210" width="1" height="1"/>
<rect x="458" y="206" width="1" height="8"/>
<rect x="457" y="210" width="1" height="1"/>
<rect x="459" y="209" width="1" height="1"/>
<rect x="460" y="202" width="1" height="25"/>
<rect x="459" y="209" width="1" height="1"/>
<rect x="461" y="214" width="1" height="1"/>
<rect x="462" y="214" width="1" height="47"/>
<rect x="461" y="214" width="1" height="1"/>
<rect x="463" y="261" width="1" height="1"/>
<rect x="463" y="261" width="1" height="5"/>
<rect x="462" y="261" width="1" height="1"/>
<rect x="464" y="262" width="1" height="1"/>
<rect x="465" y="252" width="1" height="17"/>
<rect x="464" y="262" width="1" height="1"/>
<rect x="466" y="253" width="1" height="1"/>
<rect x="467" y="249" width="1" height="15"/>
<rect x="466" y="253" width="1" height="1"/>
<rect x="468" y="250" width="1" height="1"/>
<rect x="468" y="240" width="1" height="16"/>
<rect x="467" y="250" width="1" height="1"/>
<rect x="469" y="250" width="1" height="1"/>
<rect x="470" y="238" width="1" height="21"/>
<rect x="469" y="250" width="1" height="1"/>
<rect x="471" y="245" width="1" height="1"/>
<rect x="472" y="241" width="1" height="9"/>
<rect x="471" y="245" width="1" height="1"/>
<rect x="473" y="248" width="1" height="1"/>
<rect x="473" y="245" width="1" height="5"/>
<rect x="472" y="248" width="1" height="1"/>
<rect x="474" y="248" width="1" height="1"/>
<rect x="475" y="246" width="1" height="3"/>
<rect x="474" y="248" width="1" height="1"/>
<rect x="476" y="248" width="1" height="1"/>
<rect x="477" y="245" width="1" height="9"/>
<rect x="476" y="248" width="1" height="1"/>
<rect x="478" y="250" width="1" height="1"/>
<rect x="479" y="228" width="1" height="22"/>
<rect x="478" y="250" width="1" height="1"/>
<rect x="480" y="233" width="1" height="1"/>
<rect x="480" y="228" width="1" height="8"/>
<rect x="479" y="233" width="1" height="1"/>
<rect x="481" y="230" width="1" height="1"/>
<rect x="482" y="229" width="1" height="5"/>
<rect x="481" y="230" width="1" height="1"/>
<rect x="483" y="231" width="1" height="1"/>
<rect x="483" y="222" width="1" height="15"/>
<rect x="482" y="231" width="1" height="1"/>
<rect x="484" y="223" width="1" height="1"/>
<rect x="484" y="208" width="1" height="17"/>
<rect x="483" y="223" width="1" height="1"/>
<rect x="485" y="208" width="1" height="1"/>
<rect x="486" y="204" width="1" height="9"/>
<rect x="485" y="208" width="1" height="1"/>
<rect x="487" y="208" width="1" height="1"/>
<rect x="488" y="201" width="1" height="11"/>
<rect x="487" y="208" width="1" height="1"/>
<rect x="489" y="209" width="1" height="1"/>
<rect x="490" y="201" width="1" height="16"/>
<rect x="489" y="209" width="1" height="1"/>
<rect x="491" y="203" width="1" height="1"/>
<rect x="492" y="201" width="1" height="9"/>
<rect x="491" y="203" width="1" height="1"/>
<rect x="493" y="202" width="1" height="1"/>
<rect x="493" y="193" width="1" height="12"/>
<rect x="492" y="202" width="1" height="1"/>
<rect x="494" y="202" width="1" height="1"/>
<rect x="495" y="200" width="1" height="12"/>
<rect x="494" y="202" width="1" height="1"/>
<rect x="496" y="209" width="1" height="1"/>
<rect x="496" y="204" width="1" height="20"/>
<rect x="495" y="209" width="1" height="1"/>
<rect x="497" y="207" width="1" height="1"/>
<rect x="498" y="199" width="1" height="10"/>
<rect x="497" y="207" width="1" height="1"/>
<rect x="499" y="203" width="1" height="1"/>
<rect x="500" y="193" width="1" height="12"/>
<rect x="499" y="203" width="1" height="1"/>
<rect x="501" y="197" width="1" height="1"/>
<rect x="502" y="184" width="1" height="15"/>
<rect x="501" y="197" width="1" height="1"/>
<rect x="503" y="190" width="1" height="1"/>
<rect x="504" y="184" width="1" height="23"/>
<rect x="503" y="190" width="1" height="1"/>
<rect x="505" y="204" width="1" height="1"/>
<rect x="506" y="195" width="1" height="22"/>
<rect x="505" y="204" width="1" height="1"/>
<rect x="507" y="207" width="1" height="1"/>
<rect x="508" y="195" width="1" height="13"/>
<rect x="507" y="207" width="1" height="1"/>
<rect x="509" y="196" width="1" height="1"/>
<rect x="509" y="191" width="1" height="17"/>
<rect x="508" y="196" width="1" height="1"/>
<rect x="510" y="207" width="1" height="1"/>
<rect x="511" y="199" width="1" height="15"/>
<rect x="510" y="207" width="1" height="1"/>
<rect x="512" y="212" width="1" height="1"/>
<rect x="513" y="204" width="1" height="13"/>
<rect x="512" y="212" width="1" height="1"/>
<rect x="514" y="209" width="1" height="1"/>
<rect x="514" y="208" width="1" height="18"/>
<rect x="513" y="209" width="1" height="1"/>
<rect x="515" y="212" width="1" height="1"/>
<rect x="516" y="205" width="1" height="12"/>
<rect x="515" y="212" width="1" height="1"/>
<rect x="517" y="213" width="1" height="1"/>
<rect x="518" y="199" width="1" height="22"/>
<rect x="517" y="213" width="1" height="1"/>
<rect x="519" y="205" width="1" height="1"/>
<rect x="520" y="197" width="1" height="8"/>
<rect x="519" y="205" width="1" height="1"/>
<rect x="521" y="201" width="1" height="1"/>
<rect x="522" y="199" width="1" height="21"/>
<rect x="521" y="201" width="1" height="1"/>
<rect x="523" y="208" width="1" height="1"/>
<rect x="524" y="200" width="1" height="14"/>
<rect x="523" y="208" width="1" height="1"/>
<rect x="525" y="205" width="1" height="1"/>
<rect x="525" y="191" width="1" height="14"/>
<rect x="524" y="205" width="1" height="1"/>
<rect x="526" y="202" width="1" height="1"/>
<rect x="527" y="184" width="1" height="21"/>
<rect x="526" y="202" width="1" height="1"/>
<rect x="528" y="204" width="1" height="1"/>
<rect x="529" y="182" width="1" height="28"/>
<rect x="528" y="204" width="1" height="1"/>
<rect x="530" y="191" width="1" height="1"/>
<rect x="530" y="186" width="1" height="11"/>
<rect x="529" y="191" width="1" height="1"/>
<rect x="531" y="192" width="1" height="1"/>
<rect x="532" y="186" width="1" height="9"/>
<rect x="531" y="192" width="1" height="1"/>
<rect x="533" y="188" width="1" height="1"/>
<rect x="534" y="187" width="1" height="14"/>
<rect x="533" y="188" width="1" height="1"/>
<rect x="535" y="197" width="1" height="1"/>
<rect x="535" y="187" width="1" height="18"/>
<rect x="534" y="197" width="1" height="1"/>
<rect x="536" y="204" width="1" height="1"/>
<rect x="536" y="199" width="1" height="9"/>
<rect x="535" y="204" width="1" height="1"/>
<rect x="537" y="206" width="1" height="1"/>
<rect x="538" y="201" width="1" height="17"/>
<rect x="537" y="206" width="1" height="1"/>
<rect x="539" y="214" width="1" height="1"/>
<rect x="540" y="195" width="1" height="64"/>
<rect x="539" y="214" width="1" height="1"/>
<rect x="541" y="229" width="1" height="1"/>
<rect x="542" y="226" width="1" height="12"/>
<rect x="541" y="229" width="1" height="1"/>
<rect x="543" y="227" width="1" height="1"/>
<rect x="544" y="212" width="1" height="16"/>
<rect x="543" y="227" width="1" height="1"/>
<rect x="545" y="227" width="1" height="1"/>
<rect x="545" y="220" width="1" height="10"/>
<rect x="544" y="227" width="1" height="1"/>
<rect x="546" y="230" width="1" height="1"/>
<rect x="547" y="224" width="1" height="8"/>
<rect x="546" y="230" width="1" height="1"/>
<rect x="548" y="229" width="1" height="1"/>
<rect x="549" y="225" width="1" height="13"/>
<rect x="548" y="229" width="1" height="1"/>
<rect x="550" y="236" width="1" height="1"/>
<rect x="550" y="228" width="1" height="12"/>
<rect x="549" y="236" width="1" height="1"/>
<rect x="551" y="231" width="1" height="1"/>
<rect x="551" y="228" width="1" height="27"/>
<rect x="550" y="231" width="1" height="1"/>
<rect x="552" y="231" width="1" height="1"/>
<rect x="553" y="225" width="1" height="7"/>
<rect x="552" y="231" width="1" height="1"/>
<rect x="554" y="230" width="1" height="1"/>
<rect x="554" y="222" width="1" height="8"/>
<rect x="553" y="230" width="1" height="1"/>
<rect x="555" y="225" width="1" height="1"/>
<rect x="556" y="222" width="1" height="10"/>
<rect x="555" y="225" width="1" height="1"/>
<rect x="557" y="229" width="1" height="1"/>
<rect x="557" y="229" width="1" height="29"/>
<rect x="556" y="229" width="1" height="1"/>
<rect x="558" y="252" width="1" height="1"/>
<rect x="559" y="247" width="1" height="23"/>
<rect x="558" y="252" width="1" height="1"/>
<rect x="560" y="268" width="1" height="1"/>
</g>

<!-- wedge -->
<path d="M446.7 203L535 171.7M456 278.2L551.4 199" stroke="#f23645" stroke-width="2.2" fill="none"/>
<circle cx="561" cy="253.2" r="14.5" stroke="#f23645" stroke-width="2.5" fill="none"/>

<!-- blue path -->
<path d="M563.8 261.2L577.3 296.5L599.9 229.4L636.9 230.6L660.5 344.5M648.5 337L660.5 344.5L669.5 332.5M673.3 345.2L692.3 302.6M678.2 308.3L692.3 302.6L697.6 316.5" stroke="#0000ff" stroke-width="2.2" fill="none" stroke-linejoin="miter" stroke-miterlimit="3"/>

<!-- wave labels -->
<g font-size="16" fill="#000" stroke="#000" stroke-width="0.3" text-anchor="middle">
<text x="287" y="367">1</text>
<text x="308" y="464">2</text>
<text x="425.5" y="178">3</text>
<text x="433.5" y="313.5">4</text>
<text x="536" y="169">5</text>
<text x="577" y="333">A</text>
<text x="625" y="218.8">B</text>
<text x="666" y="380">C</text>
</g>
<g font-size="17.5" fill="#ff0000" stroke="#ff0000" stroke-width="0.3" text-anchor="middle">
<text x="536" y="152">(3)</text>
<text x="656" y="418.5">(4)</text>
<text x="715" y="110.8">(5)</text>
<text x="22" y="637.3">(2)</text>
</g>
<text x="714.5" y="64.7" font-size="19" fill="#000" stroke="#000" stroke-width="0.2" text-anchor="middle">III</text>
<text x="686" y="380.5" font-size="12" fill="#ff0000" textLength="48.5" lengthAdjust="spacingAndGlyphs">SUPPORT</text>

<g stroke="#1f27f2" stroke-width="1.1" fill="none">
<circle cx="351.6" cy="323.3" r="10.8"/>
<circle cx="355.6" cy="406.3" r="11.1"/>
<circle cx="384.2" cy="241" r="11.1"/>
<circle cx="394.7" cy="338.2" r="11.1"/>
<circle cx="425.3" cy="187.6" r="11.1"/>
<circle cx="714.4" cy="80.3" r="11.2"/>
</g>
<g font-size="15" fill="#1f27f2" stroke="#1f27f2" stroke-width="0.35" text-anchor="middle">
<text x="351.6" y="328.8">i</text>
<text x="355.6" y="412">ii</text>
<text x="384.2" y="246.5" letter-spacing="0.8">iii</text>
<text x="394.7" y="343.3">iv</text>
<text x="425.3" y="193">v</text>
<text x="714.4" y="86.8" font-size="17" stroke-width="0.6">5</text>
</g>

<!-- axes -->
<path d="M742.5 0V760M0 736.5H804" stroke="#4a4a4a" stroke-width="1" fill="none"/>

<!-- price labels -->
<g font-size="11" fill="#4a4a4a">
<text x="751" y="81" textLength="48.3" lengthAdjust="spacing">3,050.000</text>
<text x="751" y="137" textLength="48.3" lengthAdjust="spacing">3,000.000</text>
<text x="751" y="193" textLength="48.3" lengthAdjust="spacing">2,950.000</text>
<text x="751" y="248.5" textLength="48.3" lengthAdjust="spacing">2,900.000</text>
<text x="751" y="304.5" textLength="48.3" lengthAdjust="spacing">2,850.000</text>
<text x="751" y="360.5" textLength="48.3" lengthAdjust="spacing">2,800.000</text>
<text x="751" y="416.5" textLength="48.3" lengthAdjust="spacing">2,750.000</text>
<text x="751" y="472.5" textLength="48.3" lengthAdjust="spacing">2,700.000</text>
<text x="751" y="528.5" textLength="48.3" lengthAdjust="spacing">2,650.000</text>
<text x="751" y="584.5" textLength="48.3" lengthAdjust="spacing">2,600.000</text>
<text x="751" y="640.3" textLength="48.3" lengthAdjust="spacing">2,550.000</text>
<text x="751" y="696" textLength="48.3" lengthAdjust="spacing">2,500.000</text>
</g>
<path d="M743 251H802Q804 251 804 253V281H743Z" fill="#000"/>
<path d="M743 281H804V293.8Q804 295.8 802 295.8H743Z" fill="#ff0000"/>
<path d="M743 359.4H802Q804 359.4 804 361.4V373.8Q804 375.8 802 375.8H743Z" fill="#ff0000"/>
<path d="M743 590.8H802Q804 590.8 804 592.8V606Q804 608 802 608H743Z" fill="#ff0000"/>
<path d="M743 645H802Q804 645 804 647V660Q804 662 802 662H743Z" fill="#ff0000"/>
<g font-size="11" fill="#fff">
<text x="751" y="262.5" textLength="48.3" lengthAdjust="spacing">2,888.270</text>
<text x="751" y="275.6" textLength="26.5" lengthAdjust="spacing" fill="#d6d8de">07:26</text>
<text x="751" y="291.3" textLength="48.3" lengthAdjust="spacing">2,864.191</text>
<text x="751" y="371.3" textLength="48.3" lengthAdjust="spacing">2,791.424</text>
<text x="751" y="603" textLength="48.3" lengthAdjust="spacing">2,583.900</text>
<text x="751" y="657.2" textLength="48.3" lengthAdjust="spacing">2,536.077</text>
</g>

<!-- time labels -->
<g font-size="11" fill="#4a4a4a" text-anchor="middle">
<text x="110" y="754">2025</text>
<text x="355" y="754">Feb</text>
<text x="577" y="754">Mar</text>
</g>
<!-- settings hexagon -->
<path d="M768.5 750.4L771.7 744.7H779.1L782.3 750.4L779.1 756.1H771.7Z" stroke="#131722" stroke-width="1" fill="none"/>
<circle cx="775.4" cy="750.5" r="2.2" stroke="#131722" stroke-width="1" fill="none"/>

<!-- TV logo -->
<g fill="#131722">
<path d="M5 707H17V722H11V712.5H5Z"/>
<circle cx="22" cy="710" r="2.8"/>
<path d="M27 707H35L29 722H21.5Z"/>
</g>

<!-- flags -->
<circle cx="585.3" cy="722.8" r="10.3" fill="#fff"/>
<g clip-path="url(#fc585)">
<rect x="575.3" y="712.8" width="20" height="20" fill="#fff"/>
<rect x="575.3" y="715.6999999999999" width="20" height="3" fill="#f0504a"/>
<rect x="575.3" y="721.3" width="20" height="3.1" fill="#f0504a"/>
<rect x="575.3" y="727.0" width="20" height="3.5" fill="#f0504a"/>
<rect x="575.3" y="712.8" width="12.6" height="11.6" fill="#3a86e6"/>
<rect x="579.0" y="717.0" width="0.9" height="0.9" fill="#cfe0f7"/><rect x="579.0" y="719.6" width="0.9" height="0.9" fill="#cfe0f7"/><rect x="579.0" y="722.2" width="0.9" height="0.9" fill="#cfe0f7"/><rect x="581.6" y="717.0" width="0.9" height="0.9" fill="#cfe0f7"/><rect x="581.6" y="719.6" width="0.9" height="0.9" fill="#cfe0f7"/><rect x="581.6" y="722.2" width="0.9" height="0.9" fill="#cfe0f7"/><rect x="584.2" y="717.0" width="0.9" height="0.9" fill="#cfe0f7"/><rect x="584.2" y="719.6" width="0.9" height="0.9" fill="#cfe0f7"/><rect x="584.2" y="722.2" width="0.9" height="0.9" fill="#cfe0f7"/>
</g>
<clipPath id="fc585"><circle cx="585.3" cy="722.8" r="8.1"/></clipPath>
<circle cx="585.3" cy="722.8" r="9.7" fill="none" stroke="#f23645" stroke-width="1.4"/>
<circle cx="572" cy="722.8" r="10.3" fill="#fff"/>
<g clip-path="url(#fc572)">
<rect x="562" y="712.8" width="20" height="20" fill="#fff"/>
<rect x="562" y="715.6999999999999" width="20" height="3" fill="#f0504a"/>
<rect x="562" y="721.3" width="20" height="3.1" fill="#f0504a"/>
<rect x="562" y="727.0" width="20" height="3.5" fill="#f0504a"/>
<rect x="562" y="712.8" width="12.6" height="11.6" fill="#3a86e6"/>
<rect x="565.7" y="717.0" width="0.9" height="0.9" fill="#cfe0f7"/><rect x="565.7" y="719.6" width="0.9" height="0.9" fill="#cfe0f7"/><rect x="565.7" y="722.2" width="0.9" height="0.9" fill="#cfe0f7"/><rect x="568.3" y="717.0" width="0.9" height="0.9" fill="#cfe0f7"/><rect x="568.3" y="719.6" width="0.9" height="0.9" fill="#cfe0f7"/><rect x="568.3" y="722.2" width="0.9" height="0.9" fill="#cfe0f7"/><rect x="570.9" y="717.0" width="0.9" height="0.9" fill="#cfe0f7"/><rect x="570.9" y="719.6" width="0.9" height="0.9" fill="#cfe0f7"/><rect x="570.9" y="722.2" width="0.9" height="0.9" fill="#cfe0f7"/>
</g>
<clipPath id="fc572"><circle cx="572" cy="722.8" r="8.1"/></clipPath>
<circle cx="572" cy="722.8" r="9.7" fill="none" stroke="#f23645" stroke-width="1.4"/>
<circle cx="560.2" cy="722.8" r="10.3" fill="#fff"/>
<g clip-path="url(#fc560)">
<rect x="550.2" y="712.8" width="20" height="20" fill="#fff"/>
<rect x="550.2" y="715.6999999999999" width="20" height="3" fill="#f0504a"/>
<rect x="550.2" y="721.3" width="20" height="3.1" fill="#f0504a"/>
<rect x="550.2" y="727.0" width="20" height="3.5" fill="#f0504a"/>
<rect x="550.2" y="712.8" width="12.6" height="11.6" fill="#3a86e6"/>
<rect x="553.9" y="717.0" width="0.9" height="0.9" fill="#cfe0f7"/><rect x="553.9" y="719.6" width="0.9" height="0.9" fill="#cfe0f7"/><rect x="553.9" y="722.2" width="0.9" height="0.9" fill="#cfe0f7"/><rect x="556.5" y="717.0" width="0.9" height="0.9" fill="#cfe0f7"/><rect x="556.5" y="719.6" width="0.9" height="0.9" fill="#cfe0f7"/><rect x="556.5" y="722.2" width="0.9" height="0.9" fill="#cfe0f7"/><rect x="559.1" y="717.0" width="0.9" height="0.9" fill="#cfe0f7"/><rect x="559.1" y="719.6" width="0.9" height="0.9" fill="#cfe0f7"/><rect x="559.1" y="722.2" width="0.9" height="0.9" fill="#cfe0f7"/>
</g>
<clipPath id="fc560"><circle cx="560.2" cy="722.8" r="8.1"/></clipPath>
<circle cx="560.2" cy="722.8" r="9.7" fill="none" stroke="#f23645" stroke-width="1.4"/>

<!-- header -->
<circle cx="10.9" cy="13.75" r="9" fill="#d99e08"/>
<path d="M9 10H13.2L14.2 12.8H8Z M5.6 14.1H9.1L10.4 16.9H4.1Z M12.5 14.1H16L17.9 16.9H11.9Z" fill="#fff"/>
<g font-size="15.5" fill="#4a4a4a">
<text x="24" y="19.7" textLength="32" lengthAdjust="spacingAndGlyphs">Gold</text>
<text x="62" y="19.7" textLength="31" lengthAdjust="spacingAndGlyphs">Spot</text>
<text x="100.2" y="19.7">/</text>
<text x="111.5" y="19.7" textLength="28.5" lengthAdjust="spacingAndGlyphs">U.S.</text>
<text x="146.5" y="19.7" textLength="42" lengthAdjust="spacingAndGlyphs">Dollar</text>
<rect x="193.3" y="13.4" width="2" height="2"/>
<text x="200.5" y="19.7" textLength="17" lengthAdjust="spacingAndGlyphs">4h</text>
<rect x="223" y="13.4" width="2" height="2"/>
<text x="230" y="19.7" textLength="49.5" lengthAdjust="spacingAndGlyphs">OANDA</text>
</g>
<circle cx="303" cy="14" r="8.7" fill="#daf1ec"/>
<circle cx="303" cy="14" r="4" fill="#089981"/>

<!-- fullscreen btn -->
<rect x="714" y="2" width="24" height="24" rx="3" fill="#7b9ff6"/>
<path d="M721.5 12.4V11.5Q721.5 9.6 723.4 9.6H729.7Q731.6 9.6 731.6 11.5V12.4M721.5 15.8V16.9Q721.5 18.8 723.4 18.8H729.7Q731.6 18.8 731.6 16.9V15.8" stroke="#fff" stroke-width="1.3" fill="none"/>
<!-- USD -->
<rect x="746.5" y="2.5" width="57" height="25" rx="4" fill="#fff" stroke="#e0e3eb"/>
<text x="750" y="19" font-size="12" fill="#131722" textLength="21.5" lengthAdjust="spacingAndGlyphs">USD</text>
<path d="M794.5 14L797 16.5L799.5 14" stroke="#131722" stroke-width="1.2" fill="none"/>
</svg>
</body></html>
